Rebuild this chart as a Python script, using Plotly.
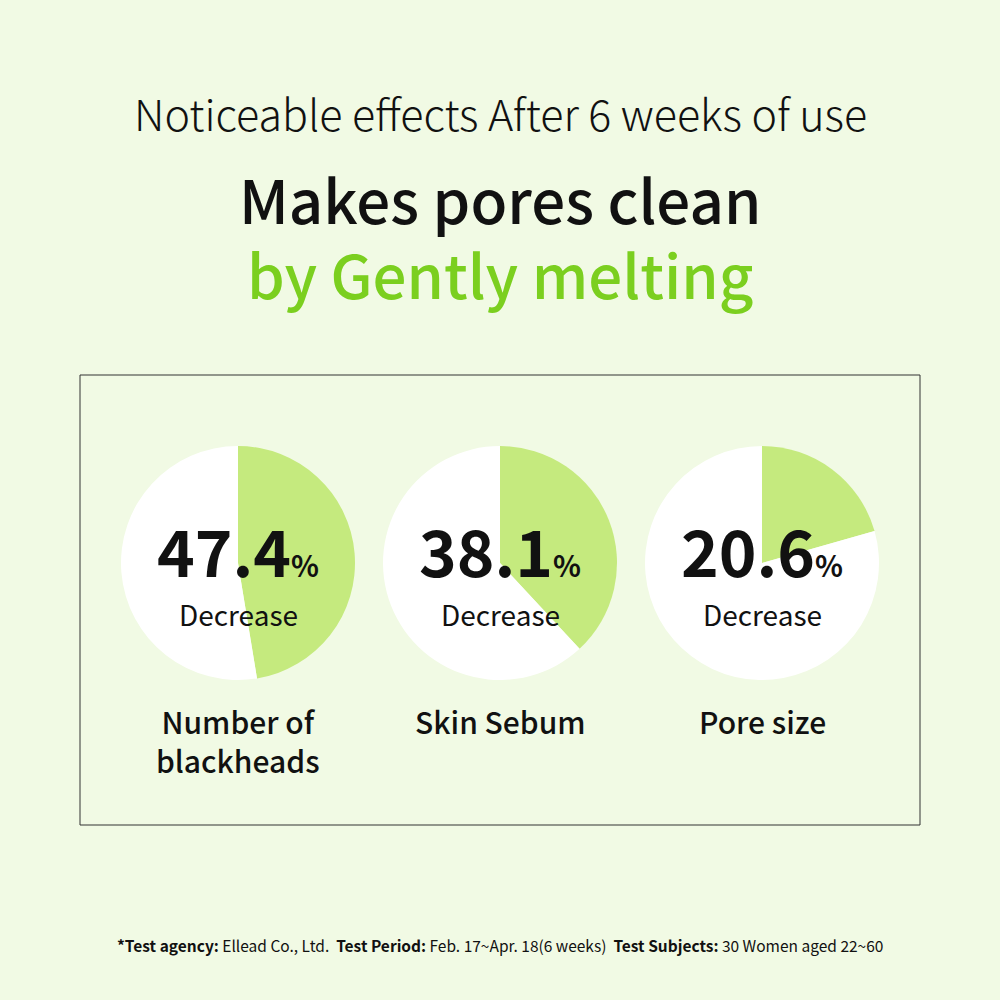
import plotly.graph_objects as go

# data
categories = ["Number of<br>blackheads", "Skin Sebum", "Pore size"]
decrease_pct = [47.4, 38.1, 20.6]

BG = "#F1FAE4"
GREEN_SLICE = "#C5EA7E"
GREEN_TEXT = "#7BCF1F"
FONT = "Noto Sans CJK KR"

# pie centres in px (1000x1000 canvas), radius ~117
centres_x = [238, 500, 762]
centre_y = 563
radius = 117


def py(px):
    """pixel row from top -> paper y"""
    return 1 - px / 1000


fig = go.Figure()

for i, (cat, val) in enumerate(zip(categories, decrease_pct)):
    cx = centres_x[i]
    fig.add_trace(go.Pie(
        values=[val, 100 - val],
        labels=["Decrease", "Rest"],
        marker=dict(colors=[GREEN_SLICE, "#FFFFFF"], line=dict(width=0)),
        sort=False, direction="clockwise", rotation=0,
        textinfo="none", hoverinfo="skip", showlegend=False,
        domain=dict(x=[(cx - radius) / 1000, (cx + radius) / 1000],
                    y=[py(centre_y + radius), py(centre_y - radius)]),
    ))
    # big number
    fig.add_annotation(
        x=cx / 1000, y=py(549), xref="paper", yref="paper",
        text=f"{val}<span style='font-size:29px'>%</span>",
        showarrow=False, xanchor="center", yanchor="middle",
        font=dict(family=FONT, size=64, color="#111111", weight=700),
    )
    fig.add_annotation(
        x=cx / 1000, y=py(614), xref="paper", yref="paper",
        text="Decrease", showarrow=False, xanchor="center", yanchor="middle",
        font=dict(family=FONT, size=28, color="#111111"),
    )
    fig.add_annotation(
        x=cx / 1000, y=py(697), xref="paper", yref="paper",
        text=cat, showarrow=False, xanchor="center", yanchor="top",
        font=dict(family=FONT, size=30, color="#111111", weight=500),
    )

# headings
fig.add_annotation(x=0.5, y=py(112), xref="paper", yref="paper", yanchor="middle",
                   text="Noticeable effects After 6 weeks of use", showarrow=False,
                   font=dict(family=FONT, size=43, color="#111111", weight=200))
fig.add_annotation(x=0.5, y=py(197), xref="paper", yref="paper", yanchor="middle",
                   text="Makes pores clean", showarrow=False,
                   font=dict(family=FONT, size=60, color="#111111", weight=500))
fig.add_annotation(x=0.5, y=py(272), xref="paper", yref="paper", yanchor="middle",
                   text="by Gently melting", showarrow=False,
                   font=dict(family=FONT, size=60, color=GREEN_TEXT, weight=500))

# footer
fig.add_annotation(
    x=0.5, y=py(945), xref="paper", yref="paper", yanchor="middle", showarrow=False,
    text=("<b>*Test agency:</b> Ellead Co., Ltd.  <b>Test Period:</b> Feb. 17~Apr. 18(6 weeks)"
          "  <b>Test Subjects:</b> 30 Women aged 22~60"),
    font=dict(family=FONT, size=15.5, color="#111111"),
)

# frame around the pies
fig.add_shape(type="rect", xref="paper", yref="paper",
              x0=0.080, x1=0.920, y0=py(825), y1=py(375),
              line=dict(color="#333333", width=1), fillcolor="rgba(0,0,0,0)")

fig.update_layout(
    width=1000, height=1000,
    margin=dict(l=0, r=0, t=0, b=0),
    paper_bgcolor=BG, plot_bgcolor=BG,
)

# drop the default 8px body margin so the figure fills the window
fig.write_html("out.html", config={"displayModeBar": False},
               post_script="document.body.style.margin='0';")
